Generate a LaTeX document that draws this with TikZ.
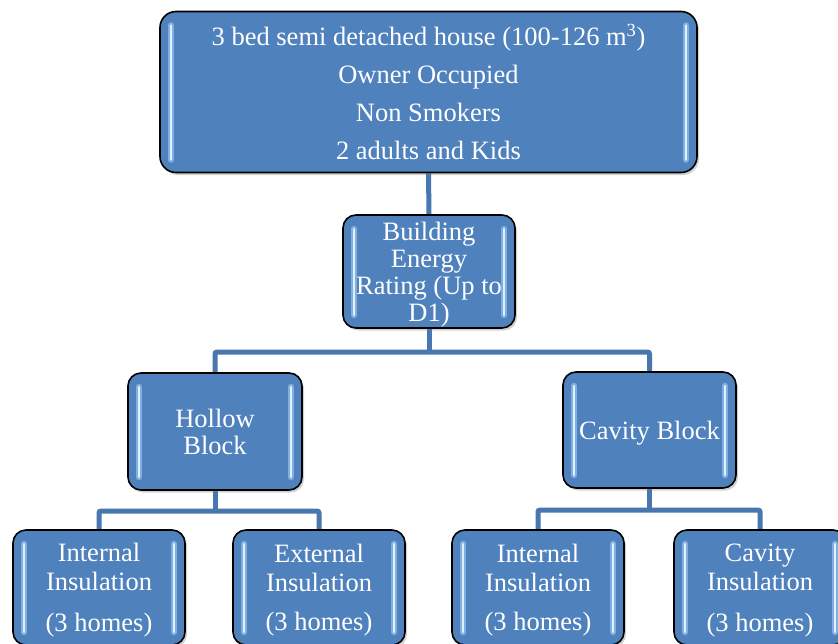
\documentclass[tikz,border=0pt]{standalone}
\usepackage{fontspec}
\setmainfont{Liberation Serif}
\usetikzlibrary{shadows,backgrounds,calc}
\definecolor{boxblue}{RGB}{79,129,189}
\definecolor{connblue}{RGB}{72,118,174}
\definecolor{hlcore}{RGB}{225,240,255}
\definecolor{hlglow}{RGB}{150,196,242}
\newcommand{\firstlinegap}{\rule{0pt}{24pt}}
\tikzset{
  hl/.style={line cap=round, line width=2.4pt, hlcore},
  hlg/.style={line cap=round, line width=6.5pt, hlglow, opacity=0.7},
  boxbase/.style={draw=black, line width=1.6pt, fill=boxblue, rounded corners=13pt,
    text=white, align=center, inner sep=0pt,
    drop shadow={shadow xshift=2pt, shadow yshift=-2.5pt, opacity=0.35},
    path picture={
      \foreach \side/\s in {west/1, east/-1} {
        \draw[hlg] ([xshift=\s*11pt, yshift=-14pt]path picture bounding box.north \side) -- ([xshift=\s*11pt, yshift=13pt]path picture bounding box.south \side);
        \draw[hl] ([xshift=\s*11pt, yshift=-14pt]path picture bounding box.north \side) -- ([xshift=\s*11pt, yshift=13pt]path picture bounding box.south \side);
      }
    }},
  midbox/.style={boxbase, font=\fontsize{26.5}{27}\selectfont},
  lowbox/.style={boxbase, minimum width=172pt, minimum height=115pt, font=\fontsize{26.5}{29}\selectfont},
  conn/.style={connblue, line width=5pt, rounded corners=2pt},
}
\begin{document}
\begin{tikzpicture}[x=1pt, y=-1pt]
\useasboundingbox (0,0) rectangle (838,643);
\clip (0,0) rectangle (838,643);

\node[boxbase, minimum width=537pt, minimum height=161pt, rounded corners=16pt,
      font=\fontsize{26.5}{38}\selectfont] (top) at (428.5,92)
  {3 bed semi detached house (100-126 m\textsuperscript{3})\\Owner Occupied\\Non Smokers\\2 adults and Kids};

\node[midbox, minimum width=172pt, minimum height=113pt] (bld) at (429,271.5)
  {\firstlinegap Building\\Energy\\Rating (Up to\\D1)};

\node[midbox, minimum width=174pt, minimum height=117pt] (hollow) at (215,431.5)
  {Hollow\\Block};
\node[midbox, minimum width=173pt, minimum height=116pt] (cavity) at (649.5,430)
  {\firstlinegap Cavity Block};

\node[lowbox] (b1) at (99,587.5) {\firstlinegap Internal\\Insulation\\[12pt](3 homes)};
\node[lowbox] (b2) at (319,587.5) {\firstlinegap External\\Insulation\\[10pt](3 homes)};
\node[lowbox] (b3) at (538,587.5) {\firstlinegap Internal\\Insulation\\[10pt](3 homes)};
\node[lowbox] (b4) at (760,587.5) {\firstlinegap Cavity\\Insulation\\[12pt](3 homes)};

\begin{scope}[on background layer]
  \fill[white] (0,0) rectangle (838,643);
  \coordinate (y1) at (0,352);
  \coordinate (y2) at (0,511);
  \coordinate (y3) at (0,510);
  \coordinate (j1) at (bld.south |- y1);
  \coordinate (j2) at (hollow.south |- y2);
  \coordinate (j3) at (cavity.south |- y3);
  \draw[conn] (top.south) -- (bld.north);
  \draw[conn] (bld.south) -- (j1);
  \draw[conn] (hollow.north) |- (j1) -| (cavity.north);
  \draw[conn] (hollow.south) -- (j2);
  \draw[conn] (b1.north) |- (j2) -| (b2.north);
  \draw[conn] (cavity.south) -- (j3);
  \draw[conn] (b3.north) |- (j3) -| (b4.north);
\end{scope}
\end{tikzpicture}
\end{document}
